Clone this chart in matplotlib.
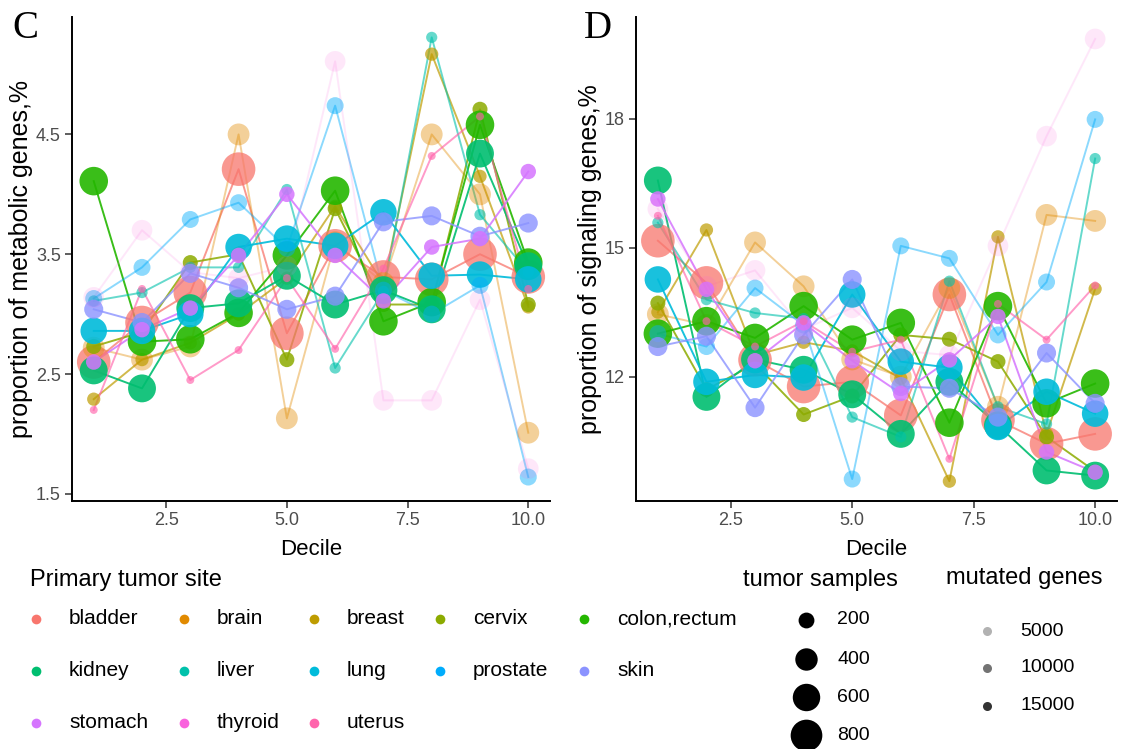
import matplotlib
matplotlib.use("Agg")
import matplotlib.pyplot as plt
import numpy as np

plt.rcParams['font.family'] = ['Liberation Sans', 'DejaVu Sans']

# ---------------- data ----------------
deciles = [1, 2, 3, 4, 5, 6, 7, 8, 9, 10]
sites = ["bladder", "brain", "breast", "cervix", "colon,rectum", "kidney",
         "liver", "lung", "prostate", "skin", "stomach", "thyroid", "uterus"]

# proportion of metabolic genes, % (panel C)
met_bladder  = [2.60, 2.93, 3.18, 4.21, 2.84, 3.57, 3.31, 3.29, 3.50, 3.31]
met_brain    = [2.72, 2.62, 2.73, 4.50, 2.13, 3.60, 3.26, 4.50, 4.00, 2.01]
met_breast   = [2.29, 2.62, 2.76, 3.00, 3.30, 3.90, 3.25, 5.17, 4.15, 3.06]
met_cervix   = [2.73, 2.85, 3.43, 3.50, 2.62, 3.88, 3.08, 3.08, 4.71, 3.08]
met_colon    = [4.11, 2.77, 2.79, 3.01, 3.49, 4.03, 2.94, 3.10, 4.58, 3.43]
met_kidney   = [2.53, 2.38, 3.05, 3.09, 3.32, 3.08, 3.20, 3.04, 4.34, 3.40]
met_liver    = [3.11, 3.18, 3.39, 3.39, 4.04, 2.55, 3.19, 5.31, 3.83, 3.35]
met_lung     = [2.86, 2.86, 3.00, 3.56, 3.63, 3.57, 3.85, 3.32, 3.33, 3.29]
met_prostate = [3.13, 3.39, 3.79, 3.93, 3.55, 4.74, 3.20, 3.00, 3.24, 1.64]
met_skin     = [3.04, 2.93, 3.34, 3.22, 3.04, 3.15, 3.77, 3.82, 3.65, 3.76]
met_stomach  = [2.60, 2.87, 3.05, 3.49, 4.00, 3.49, 3.11, 3.56, 3.63, 4.19]
met_thyroid  = [3.14, 3.70, 3.35, 3.30, 3.40, 5.11, 2.28, 2.28, 3.12, 1.71]
met_uterus   = [2.20, 3.21, 2.45, 2.70, 3.30, 2.71, 3.38, 4.32, 4.65, 3.21]

# proportion of signaling genes, % (panel D)
sig_bladder  = [15.16, 14.18, 12.39, 11.77, 11.88, 11.10, 13.91, 10.99, 10.44, 10.67]
sig_brain    = [13.45, 13.20, 15.12, 14.10, 12.40, 12.00, 14.06, 11.30, 15.76, 15.62]
sig_breast   = [13.50, 15.41, 12.50, 12.80, 12.60, 11.96, 9.57, 15.25, 10.67, 14.04]
sig_cervix   = [13.71, 11.70, 12.30, 11.12, 11.55, 12.97, 12.87, 12.35, 10.60, 9.80]
sig_colon    = [13.00, 13.29, 12.90, 13.64, 12.86, 13.25, 10.93, 13.64, 11.38, 11.84]
sig_kidney   = [16.56, 11.53, 12.40, 12.16, 11.59, 10.67, 11.88, 10.87, 9.82, 9.70]
sig_liver    = [15.58, 13.79, 13.48, 13.35, 11.06, 10.60, 14.22, 11.30, 10.90, 17.07]
sig_lung     = [14.26, 11.88, 12.04, 11.98, 13.91, 12.35, 12.21, 10.83, 11.65, 11.14]
sig_prostate = [13.00, 12.70, 14.06, 13.20, 9.62, 15.04, 14.75, 12.97, 14.20, 17.98]
sig_skin     = [12.70, 12.94, 11.28, 12.97, 14.26, 11.77, 11.73, 11.06, 12.55, 11.38]
sig_stomach  = [16.13, 14.03, 12.37, 13.25, 12.37, 11.61, 12.39, 13.40, 10.25, 9.78]
sig_thyroid  = [15.90, 14.10, 14.47, 13.10, 13.60, 12.60, 12.50, 15.04, 17.59, 19.85]
sig_uterus   = [15.74, 13.29, 12.70, 13.29, 12.58, 12.86, 10.09, 13.69, 12.86, 14.12]

# tumor samples and mutated genes per site
tumor_samples = [900, 380, 140, 180, 650, 620, 100, 560, 230, 290, 190, 340, 50]
mutated_genes = [14000, 7000, 13000, 16000, 17000, 17000, 11000, 17000, 8000, 15000, 16000, 2000, 12000]

size_breaks = [200, 400, 600, 800]
alpha_breaks = [5000, 10000, 15000]

met_series = [met_bladder, met_brain, met_breast, met_cervix, met_colon, met_kidney,
              met_liver, met_lung, met_prostate, met_skin, met_stomach, met_thyroid, met_uterus]
sig_series = [sig_bladder, sig_brain, sig_breast, sig_cervix, sig_colon, sig_kidney,
              sig_liver, sig_lung, sig_prostate, sig_skin, sig_stomach, sig_thyroid, sig_uterus]

colors = ["#F8766D", "#E18A00", "#BE9C00", "#8CAB00", "#24B700", "#00BE70", "#00C1AB",
          "#00BBDA", "#00ACFC", "#8B93FF", "#D575FE", "#F962DD", "#FF65AC"]

W, H = 1126, 749
DPI = 100


def diam_pt(n):
    return 1.12 * np.sqrt(n) * 72.0 / DPI


def alpha_of(g):
    return float(np.clip(0.05 + g / 20000.0, 0.08, 1.0))


fig = plt.figure(figsize=(W / DPI, H / DPI), dpi=DPI)

TICK_COLOR = "#4D4D4D"


def make_axes(left_px, right_px, top_px, bottom_px):
    return fig.add_axes([left_px / W, 1 - bottom_px / H,
                         (right_px - left_px) / W, (bottom_px - top_px) / H])


def style(ax, ylim, yticks, ylabel):
    ax.set_xlim(0.55, 10.45)
    ax.set_ylim(*ylim)
    ax.set_xticks([2.5, 5.0, 7.5, 10.0])
    ax.set_xticklabels(["2.5", "5.0", "7.5", "10.0"])
    ax.set_yticks(yticks)
    for s in ["top", "right"]:
        ax.spines[s].set_visible(False)
    for s in ["left", "bottom"]:
        ax.spines[s].set_linewidth(1.4)
        ax.spines[s].set_color("black")
    ax.tick_params(axis="both", length=5, width=1.1, color="#333333",
                   labelsize=13, labelcolor=TICK_COLOR, pad=3)
    ax.set_xlabel("Decile", fontsize=16, labelpad=7)
    ax.set_ylabel(ylabel, fontsize=18, labelpad=2)


def draw(ax, series):
    for vals, c, n, g in zip(series, colors, tumor_samples, mutated_genes):
        a = alpha_of(g)
        ax.plot(deciles, vals, color=c, alpha=a, lw=1.4, zorder=2)
        ax.scatter(deciles, vals, s=diam_pt(n) ** 2, color=c, alpha=a,
                   edgecolors="none", zorder=3)


axC = make_axes(72, 550, 17, 501)
draw(axC, met_series)
style(axC, (1.44, 5.48), [1.5, 2.5, 3.5, 4.5], "proportion of metabolic genes,%")
axC.set_yticklabels(["1.5", "2.5", "3.5", "4.5"])

axD = make_axes(636, 1117, 17, 501)
draw(axD, sig_series)
style(axD, (9.11, 20.36), [12, 15, 18], "proportion of signaling genes,%")
axD.set_yticklabels(["12", "15", "18"])

fig.text(12 / W, 1 - 28 / H, "C", fontfamily="Liberation Serif", fontsize=28, va="center", ha="left")
fig.text(584 / W, 1 - 28 / H, "D", fontfamily="Liberation Serif", fontsize=28, va="center", ha="left")

# ---------------- legends (pixel coordinate overlay) ----------------
lg = fig.add_axes([0, 0, 1, 1])
lg.set_xlim(0, W)
lg.set_ylim(H, 0)
lg.axis("off")
lg.patch.set_alpha(0)

lg.text(30, 580, "Primary tumor site", fontsize=17, va="center", ha="left")
col_dot = [36, 184, 314, 440, 584]
row_y = [619, 671, 723]
for i, (name, c) in enumerate(zip(sites, colors)):
    r, k = divmod(i, 5)
    lg.plot([col_dot[k]], [row_y[r]], "o", color=c, ms=7, mec="none")
    lg.text(col_dot[k] + 33, row_y[r], name, fontsize=15, va="center", ha="left")

lg.text(820, 580, "tumor samples", fontsize=17, va="center", ha="center")
for n, y in zip(size_breaks, [620, 659, 697, 735]):
    lg.plot([806], [y], "o", color="black", ms=diam_pt(n), mec="none")
    lg.text(837, y, str(n), fontsize=14, va="center", ha="left")

lg.text(1024, 578, "mutated genes", fontsize=17, va="center", ha="center")
for g, y in zip(alpha_breaks, [631, 668, 706]):
    lg.plot([987], [y], "o", color="black", alpha=alpha_of(g), ms=6.5, mec="none")
    lg.text(1020, y, str(g), fontsize=14, va="center", ha="left")

fig.savefig("out.png", dpi=DPI)
